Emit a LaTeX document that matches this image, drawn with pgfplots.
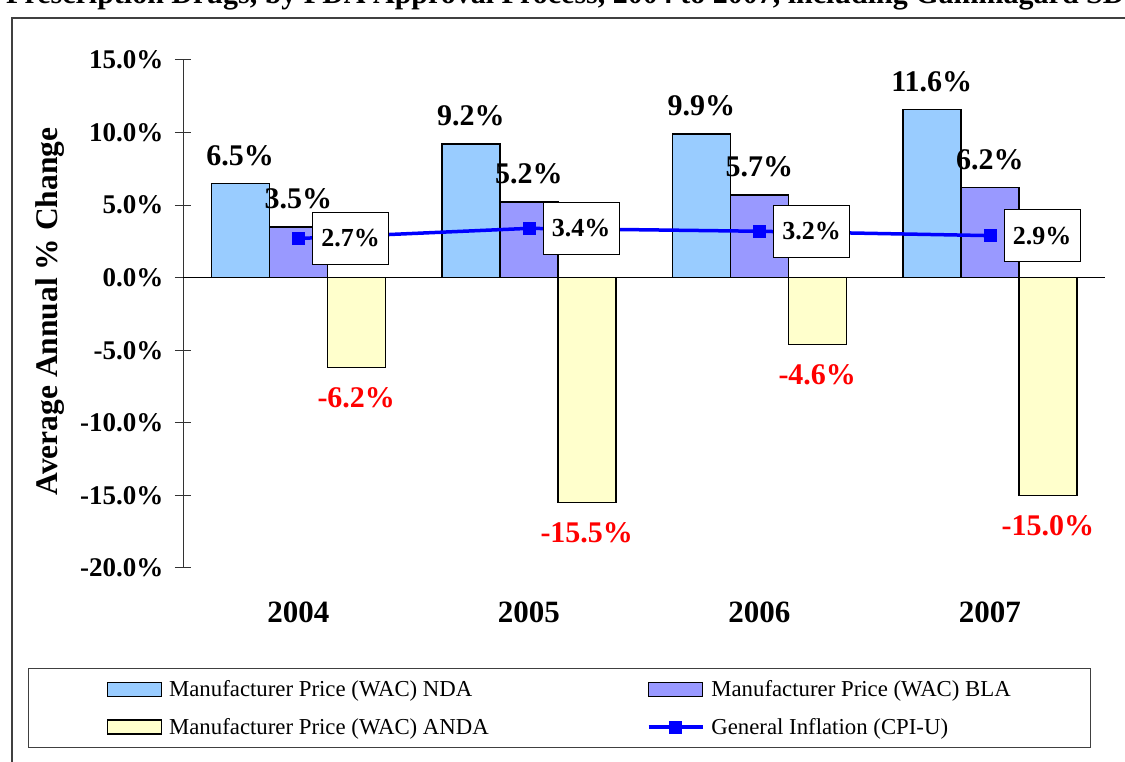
\documentclass[border=0pt]{standalone}
\usepackage{fontspec}
\setmainfont{Liberation Serif}
\usepackage{pgfplots}
\pgfplotsset{compat=1.18}
\definecolor{nda}{HTML}{99CCFF}
\definecolor{bla}{HTML}{9999FF}
\definecolor{anda}{HTML}{FFFFCC}
\definecolor{cpi}{HTML}{0000FF}
\definecolor{lbl}{HTML}{FF0000}
\pgfplotsset{
  mybarlegend/.style={legend image code/.code={\draw[##1] (0pt,-7pt) rectangle (54pt,7pt);}},
  mylinelegend/.style={legend image code/.code={\draw[mark repeat=2,mark phase=2,##1] plot coordinates {(0pt,0pt) (27pt,0pt) (54pt,0pt)};}},
}
\begin{document}
\begin{tikzpicture}
\path[use as bounding box] (0,0) rectangle (1125pt,762pt);
\clip (0,0) rectangle (1125pt,762pt);
\fill[white] (0,0) rectangle (1125pt,762pt);
\node[anchor=base west, inner sep=0pt, font=\fontsize{30}{34}\selectfont\bfseries] at (6pt,758pt)
  {Prescription Drugs, by FDA Approval Process, 2004 to 2007, including Gammagard SD Immune Globulin};
\draw[line width=1.5pt, black!75] (12pt,-5pt) -- (12pt,744pt) -- (1130pt,744pt);
\begin{axis}[
  scale only axis, width=922pt, height=508pt,
  at={(183pt,194pt)}, anchor=south west,
  xmin=-0.5, xmax=3.5, ymin=-20, ymax=15,
  axis x line*=bottom, axis y line*=left,
  x axis line style={draw=none},
  y axis line style={line width=1pt, black!80},
  /pgf/number format/assume math mode=true,
  tick align=center, major tick length=16pt,
  xtick={0,1,2,3}, xticklabels={2004,2005,2006,2007},
  xtick style={draw=none},
  ytick={-20,-15,-10,-5,0,5,10,15},
  ytick style={line width=1pt, black!80},
  yticklabel={\pgfmathprintnumber[fixed,fixed zerofill,precision=1]{\tick}\%},
  yticklabel style={font=\fontsize{27}{30}\selectfont\bfseries, anchor=east, xshift=-8pt},
  xticklabel style={font=\fontsize{31}{34}\selectfont\bfseries, yshift=-22pt},
  ylabel={Average Annual \% Change},
  ylabel style={at={(axis description cs:-0.1443,0.505)}, anchor=center, rotate=0, font=\fontsize{31.5}{34}\selectfont\bfseries},
  legend columns=2,
  legend cell align=left,
  legend style={at={(axis description cs:-0.168,-0.1969)}, anchor=north west,
    draw=black!75, line width=1pt, inner xsep=78pt, inner ysep=10pt,
    font=\fontsize{22.8}{26}\selectfont,
    /tikz/every odd column/.append style={column sep=5pt},
    /tikz/every even column/.append style={column sep=156pt},
    row sep=16pt},
]
\addplot[ybar, bar width=58pt, bar shift=-58pt, fill=nda, draw=black, line width=1.5pt, mybarlegend,
  nodes near coords={\pgfmathprintnumber[fixed,fixed zerofill,precision=1]{\pgfplotspointmeta}\%},
  every node near coord/.append style={anchor=center, xshift=-58pt, yshift=28pt, text=black, font=\fontsize{30}{34}\selectfont\bfseries}]
  coordinates {(0,6.5) (1,9.2) (2,9.9) (3,11.6)};
\addlegendentry{Manufacturer Price (WAC) NDA}
\addplot[ybar, bar width=58pt, bar shift=0pt, fill=bla, draw=black, line width=1.5pt, mybarlegend,
  nodes near coords={\pgfmathprintnumber[fixed,fixed zerofill,precision=1]{\pgfplotspointmeta}\%},
  every node near coord/.append style={anchor=center, yshift=28pt, text=black, font=\fontsize{30}{34}\selectfont\bfseries}]
  coordinates {(0,3.5) (1,5.2) (2,5.7) (3,6.2)};
\addlegendentry{Manufacturer Price (WAC) BLA\hspace{14pt}}
\addplot[ybar, bar width=58pt, bar shift=58pt, fill=anda, draw=black, line width=1.5pt, mybarlegend,
  nodes near coords={\pgfmathprintnumber[fixed,fixed zerofill,precision=1]{\pgfplotspointmeta}\%},
  every node near coord/.append style={anchor=center, xshift=58pt, yshift=-30pt, text=lbl, font=\fontsize{30}{34}\selectfont\bfseries}]
  coordinates {(0,-6.2) (1,-15.5) (2,-4.6) (3,-15.0)};
\addlegendentry{Manufacturer Price (WAC) ANDA}
\draw[black, line width=1pt] (axis cs:-0.5,0) -- (axis cs:3.5,0);
\draw[black, line width=1pt] (axis cs:0.5,0) ++(0,-10pt) -- ++(0,20pt);
\draw[black, line width=1pt] (axis cs:1.5,0) ++(0,-10pt) -- ++(0,20pt);
\draw[black, line width=1pt] (axis cs:2.5,0) ++(0,-10pt) -- ++(0,20pt);
\draw[black, line width=1pt] (axis cs:3.5,0) ++(0,-10pt) -- ++(0,20pt);
\addplot[cpi, line width=3.5pt, mark=square*, mark size=6pt, mark options={solid, fill=cpi, draw=cpi, line width=0.5pt}, mylinelegend,
  nodes near coords={\pgfmathprintnumber[fixed,fixed zerofill,precision=1]{\pgfplotspointmeta}\%},
  every node near coord/.append style={anchor=west, xshift=14pt, draw=black, line width=0.8pt, fill=white, text=black,
    minimum width=76pt, minimum height=52pt, inner sep=0pt, font=\fontsize{26}{30}\selectfont\bfseries}]
  coordinates {(0,2.7) (1,3.4) (2,3.2) (3,2.9)};
\addlegendentry{General Inflation (CPI-U)}
\end{axis}
\end{tikzpicture}
\end{document}
